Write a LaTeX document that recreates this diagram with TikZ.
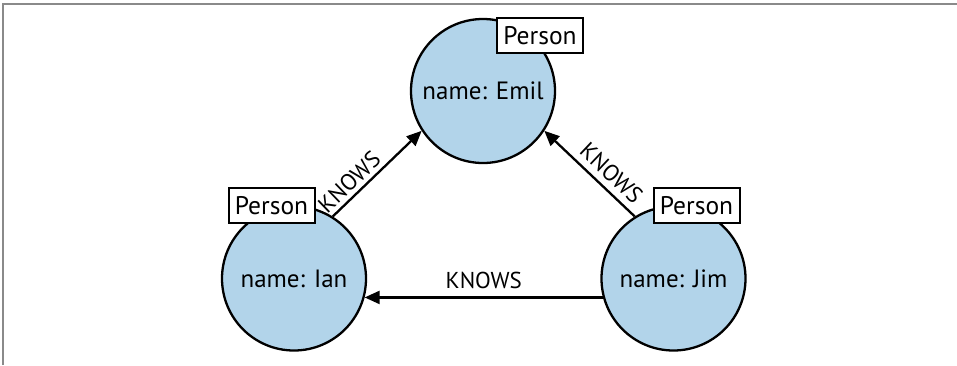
\documentclass[tikz,border=0pt]{standalone}
\usepackage{fontspec}
\setmainfont{PT Sans}
\usetikzlibrary{arrows.meta}
\definecolor{nodeblue}{RGB}{178,212,234}
\definecolor{framegray}{RGB}{138,138,138}
\begin{document}
\begin{tikzpicture}[x=1pt,y=-1pt,
  person/.style={circle, draw=black, line width=2.3pt, fill=nodeblue, minimum size=144pt, inner sep=0pt, font=\fontsize{25}{29}\selectfont},
  labelbox/.style={draw=black, line width=2pt, fill=white, minimum width=86pt, minimum height=35pt, inner sep=0pt, font=\fontsize{25.5}{29}\selectfont},
  rel/.style={line width=2.3pt, -{Triangle[length=15pt,width=13pt]}},
  rellabel/.style={font=\fontsize{23}{27}\selectfont, inner sep=0pt, sloped}
]
\useasboundingbox (0,0) rectangle (957,365);
\draw[framegray, line width=2pt] (3,365) -- (3,4) -- (957,4);

\node[person] (emil) at (483,91) {name: Emil};
\node[person] (ian) at (294,278.5) {name: Ian};
\node[person] (jim) at (673.5,278.5) {name: Jim};

\draw[rel] (ian.58) -- node[rellabel, pos=0.29, above=4pt] {KNOWS} (emil.213);
\draw[rel] (jim.122) -- node[rellabel, pos=0.375, above=6pt] {KNOWS} (emil.327);
\draw[rel] (jim.195) -- node[rellabel, pos=0.5, above=7.5pt] {KNOWS} (ian.345);

\node[labelbox] (emilLabel) at (540,35.5) {Person};
\node[labelbox] (ianLabel) at (271.5,205.5) {Person};
\node[labelbox] (jimLabel) at (696.5,205.5) {Person};
\end{tikzpicture}
\end{document}
